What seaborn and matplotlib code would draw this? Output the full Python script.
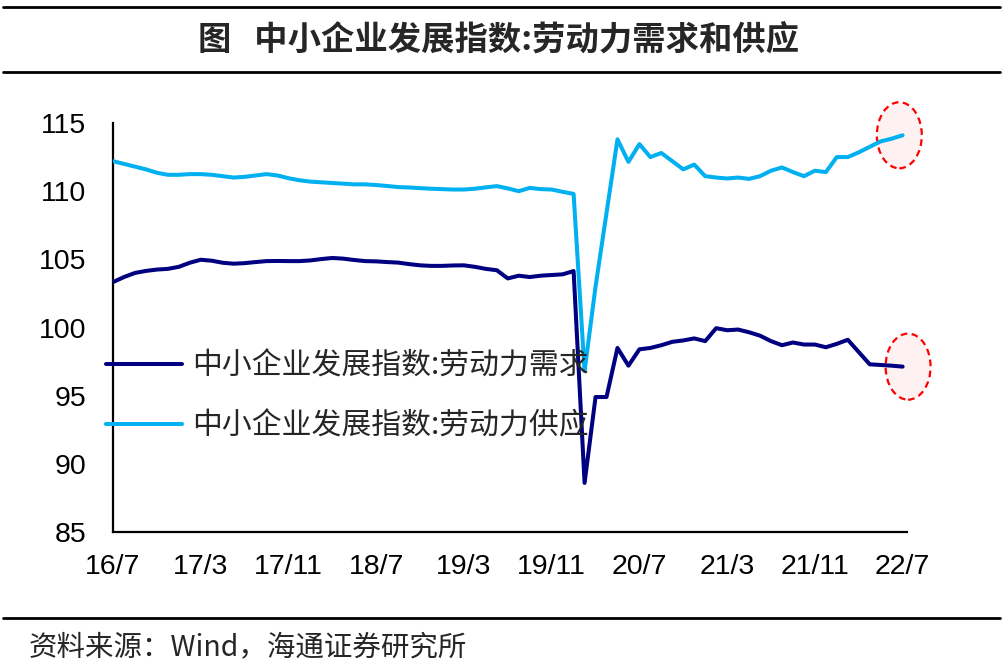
import matplotlib
matplotlib.use("Agg")
import matplotlib.pyplot as plt
from matplotlib.lines import Line2D
from matplotlib.patches import Ellipse
import seaborn as sns
import pandas as pd
import numpy as np

# monthly index, 16/7 .. 22/7
tick_labels = ['16/7', '17/3', '17/11', '18/7', '19/3', '19/11', '20/7', '21/3', '21/11', '22/7']
tick_step = 8

demand = [103.33, 103.7, 104.0, 104.15, 104.25, 104.3, 104.45, 104.75, 104.97, 104.9,
          104.75, 104.68, 104.72, 104.8, 104.87, 104.88, 104.87, 104.87, 104.92, 105.02,
          105.1, 105.05, 104.95, 104.87, 104.85, 104.8, 104.76, 104.65, 104.56, 104.52,
          104.52, 104.55, 104.56, 104.45, 104.3, 104.2, 103.6, 103.8, 103.7, 103.8,
          103.85, 103.9, 104.14, 88.6, 94.9, 94.9, 98.5, 97.2, 98.4, 98.5,
          98.7, 98.95, 99.05, 99.2, 99.0, 99.95, 99.8, 99.85, 99.65, 99.4,
          99.0, 98.7, 98.9, 98.75, 98.75, 98.55, 98.8, 99.1, 98.2, 97.3,
          97.25, 97.2, 97.13]

supply = [112.2, 112.0, 111.8, 111.6, 111.35, 111.2, 111.2, 111.25, 111.25, 111.2,
          111.1, 111.0, 111.05, 111.15, 111.25, 111.15, 110.95, 110.8, 110.7, 110.65,
          110.6, 110.55, 110.5, 110.5, 110.45, 110.38, 110.3, 110.27, 110.22, 110.18,
          110.15, 110.12, 110.12, 110.18, 110.28, 110.37, 110.2, 110.0, 110.24, 110.15,
          110.12, 109.95, 109.8, 96.8, 103.0, 108.4, 113.8, 112.15, 113.45, 112.5,
          112.8, 112.2, 111.6, 111.95, 111.1, 111.0, 110.93, 111.0, 110.9, 111.1,
          111.5, 111.74, 111.4, 111.1, 111.5, 111.4, 112.5, 112.5, 112.85, 113.25,
          113.65, 113.85, 114.1]

name_demand = '中小企业发展指数:劳动力需求'
name_supply = '中小企业发展指数:劳动力供应'

df = pd.DataFrame({'month': np.arange(len(demand)), 'demand': demand, 'supply': supply})

sns.set_theme(style="white")
plt.rcParams['font.family'] = ['Liberation Sans', 'Noto Sans CJK SC', 'DejaVu Sans']

fig = plt.figure(figsize=(10.03, 6.67), dpi=100)
ax = fig.add_axes([113 / 1003, 1 - 532 / 667, (907 - 113) / 1003, (532 - 123) / 667])

sns.lineplot(data=df, x='month', y='demand', ax=ax, color='#000080', linewidth=2.9, label=name_demand, zorder=3)
sns.lineplot(data=df, x='month', y='supply', ax=ax, color='#00B0F0', linewidth=2.9, label=name_supply, zorder=3)

ax.set_ylim(85, 115)
ax.set_yticks(np.arange(85, 116, 5))
ax.set_xlim(0, len(demand) - 1 + 0.4)
ax.set_xticks(np.arange(0, len(demand), tick_step))
ax.set_xticklabels(tick_labels)
ax.set_xlabel('')
ax.set_ylabel('')

for s in ['top', 'right']:
    ax.spines[s].set_visible(False)
for s in ['left', 'bottom']:
    ax.spines[s].set_color('black')
    ax.spines[s].set_linewidth(1.6)

ax.tick_params(axis='both', direction='out', length=7, width=1.6, color='black', labelsize=20.5, labelcolor='black')
ax.tick_params(axis='x', pad=9)
ax.tick_params(axis='y', pad=12)

# dashed highlight around the latest values
last = df.iloc[-1]
for yv, dx in [(last['supply'], -0.3), (last['demand'], 0.5)]:
    e = Ellipse((last['month'] + dx, yv), width=4.1, height=4.85, facecolor='#FDF1F1',
                edgecolor='#FF0000', linewidth=1.6, linestyle=(0, (3, 2)), clip_on=False, zorder=2)
    ax.add_patch(e)

leg = ax.legend(loc='center left', bbox_to_anchor=(106 / 1003, 1 - 396 / 667), bbox_transform=fig.transFigure,
                frameon=False, handlelength=2.55, handletextpad=0.33, labelspacing=0.95,
                borderpad=0, borderaxespad=0, prop={'family': ['Noto Sans CJK SC'], 'size': 21.5})

# title block and source
for yy in [7, 72, 618]:
    fig.add_artist(Line2D([3 / 1003, 1000 / 1003], [1 - yy / 667] * 2, transform=fig.transFigure,
                          color='black', linewidth=2))
fig.text(0.497, 1 - 40 / 667, '图   中小企业发展指数:劳动力需求和供应', ha='center', va='center',
         fontsize=24, fontweight='bold', family=['Noto Sans CJK SC'])
fig.text(29 / 1003, 1 - 647 / 667, '资料来源：Wind，海通证券研究所', ha='left', va='center',
         fontsize=20.5, family=['Noto Sans CJK SC', 'Liberation Sans'])

plt.savefig('out.png', dpi=100)
